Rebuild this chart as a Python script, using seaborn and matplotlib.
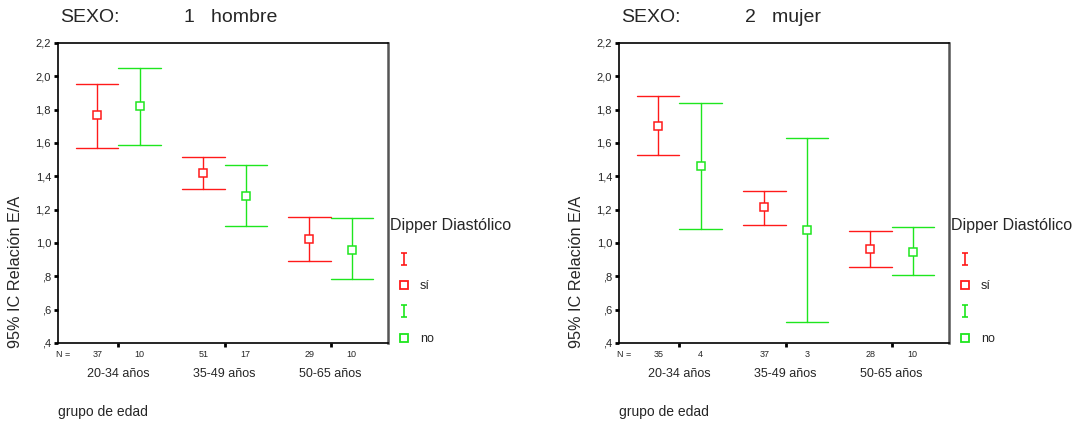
"""Relación E/A por grupo de edad y dipper diastólico, separado por sexo."""

import numpy as np
import pandas as pd
import seaborn as sns
import matplotlib
matplotlib.use("Agg")
from matplotlib import pyplot as plt
from matplotlib.path import Path
from matplotlib.lines import Line2D
from matplotlib.ticker import FuncFormatter

groups = ["20-34 años", "35-49 años", "50-65 años"]
dipper = ["sí", "no"]

# hombre (SEXO 1)
hombre_si_mean = [1.766, 1.422, 1.023]
hombre_si_lo = [1.571, 1.323, 0.892]
hombre_si_hi = [1.956, 1.518, 1.158]
hombre_no_mean = [1.819, 1.282, 0.960]
hombre_no_lo = [1.587, 1.102, 0.781]
hombre_no_hi = [2.051, 1.470, 1.150]
hombre_n_si = [37, 51, 29]
hombre_n_no = [10, 17, 10]

# mujer (SEXO 2)
mujer_si_mean = [1.702, 1.214, 0.963]
mujer_si_lo = [1.526, 1.110, 0.858]
mujer_si_hi = [1.879, 1.310, 1.073]
mujer_no_mean = [1.462, 1.079, 0.947]
mujer_no_lo = [1.083, 0.525, 0.808]
mujer_no_hi = [1.839, 1.627, 1.093]
mujer_n_si = [35, 37, 28]
mujer_n_no = [4, 3, 10]

RED = "#ff1a1a"
GREEN = "#1ee61e"
palette = {"sí": RED, "no": GREEN}


def long_table(si_lo, si_mean, si_hi, no_lo, no_mean, no_hi):
    # three rows per cell (lo, mean, hi): median -> mean, min/max -> CI
    rows = []
    for g, lo, m, hi in zip(groups, si_lo, si_mean, si_hi):
        rows += [(g, "sí", v) for v in (lo, m, hi)]
    for g, lo, m, hi in zip(groups, no_lo, no_mean, no_hi):
        rows += [(g, "no", v) for v in (lo, m, hi)]
    return pd.DataFrame(rows, columns=["grupo", "dipper", "EA"])


panels = [
    ("1   hombre", long_table(hombre_si_lo, hombre_si_mean, hombre_si_hi,
                            hombre_no_lo, hombre_no_mean, hombre_no_hi),
     hombre_n_si, hombre_n_no),
    ("2   mujer", long_table(mujer_si_lo, mujer_si_mean, mujer_si_hi,
                           mujer_no_lo, mujer_no_mean, mujer_no_hi),
     mujer_n_si, mujer_n_no),
]

sns.set_theme(style="white")
plt.rcParams["font.family"] = ["Liberation Sans", "DejaVu Sans"]

fig = plt.figure(figsize=(10.78, 4.25), dpi=100)
axes_x = [0.0538, 0.5742]
ax_w = 0.306
ax_b, ax_h = 0.193, 0.706

# errorbar legend glyph
ebar_marker = Path([(-0.5, -1), (0.5, -1), (0, -1), (0, 1), (-0.5, 1), (0.5, 1)],
                   [Path.MOVETO, Path.LINETO, Path.MOVETO, Path.LINETO,
                    Path.MOVETO, Path.LINETO])

for (sexo, df, n_si, n_no), x0 in zip(panels, axes_x):
    ax = fig.add_axes([x0, ax_b, ax_w, ax_h])
    sns.pointplot(data=df, x="grupo", y="EA", hue="dipper",
                  order=groups, hue_order=dipper, palette=palette,
                  estimator="median", errorbar=lambda v: (v.min(), v.max()),
                  dodge=0.4, markers="s", linestyles="none", capsize=0.4,
                  markersize=6, markeredgewidth=1.1,
                  err_kws={"linewidth": 1.0}, legend=False, ax=ax)
    for ln in ax.lines:
        if ln.get_marker() == "s":
            ln.set_markerfacecolor("white")
            ln.set_zorder(5)

    ax.set_ylim(0.4, 2.2)
    ax.set_xlim(-0.57, 2.54)
    ax.set_yticks(np.arange(0.4, 2.21, 0.2))
    ax.yaxis.set_major_formatter(FuncFormatter(
        lambda v, p: f"{v:.1f}".replace(".", ",").lstrip("0")))
    ax.tick_params(axis="y", which="major", direction="out", length=3, width=2,
                   color="black", labelsize=8, pad=2, left=True)

    # major x ticks: groups; minor ticks: N per dipper level
    ax.set_xticks(range(len(groups)))
    ax.set_xticklabels(groups)
    ax.tick_params(axis="x", which="major", direction="out", length=3, width=2,
                   color="black", labelsize=9, pad=15, bottom=True)
    minor_pos = []
    minor_lab = []
    for i in range(len(groups)):
        minor_pos += [i - 0.2, i + 0.2]
        minor_lab += [str(n_si[i]), str(n_no[i])]
    ax.set_xticks(minor_pos, minor=True)
    ax.set_xticklabels(minor_lab, minor=True)
    ax.tick_params(axis="x", which="minor", length=0, labelsize=6.5, pad=5)
    ax.text(-0.005, -0.038, "N =", transform=ax.transAxes, fontsize=6.5,
            ha="left", va="center")

    ax.set_xlabel("")
    ax.set_ylabel("")
    fig.text(x0 - 0.039, 0.181, "95% IC Relación E/A", rotation=90,
             fontsize=11.7, ha="center", va="bottom")
    for side in ["left", "bottom", "top"]:
        ax.spines[side].set_color("black")
        ax.spines[side].set_linewidth(1.2)
    ax.spines["right"].set_color("#555555")
    ax.spines["right"].set_linewidth(1.8)

    fig.text(x0 + 0.002, 0.958, "SEXO:", fontsize=14, va="center")
    fig.text(x0 + 0.117, 0.958, sexo, fontsize=14, va="center")
    fig.text(x0, 0.03, "grupo de edad", fontsize=10, va="center")

    # legend: title as text, then the four SPSS-style entries
    ax.text(1.006, 0.393, "Dipper Diastólico", transform=ax.transAxes,
            fontsize=11.5, ha="left", va="center")
    handles = [
        Line2D([], [], linestyle="none", marker=ebar_marker, markersize=9,
               color=RED, markeredgewidth=1.2),
        Line2D([], [], linestyle="none", marker="s", markersize=5.5,
               markerfacecolor="white", markeredgecolor=RED, markeredgewidth=1.3),
        Line2D([], [], linestyle="none", marker=ebar_marker, markersize=9,
               color=GREEN, markeredgewidth=1.2),
        Line2D([], [], linestyle="none", marker="s", markersize=5.5,
               markerfacecolor="white", markeredgecolor=GREEN, markeredgewidth=1.3),
    ]
    ax.legend(handles, ["", "sí", "", "no"],
              loc="upper left", bbox_to_anchor=(0.995, 0.313), frameon=False,
              fontsize=9, handlelength=2.0, handletextpad=0.3,
              labelspacing=1.15, borderaxespad=0.0)

fig.savefig("out.png", dpi=100)
